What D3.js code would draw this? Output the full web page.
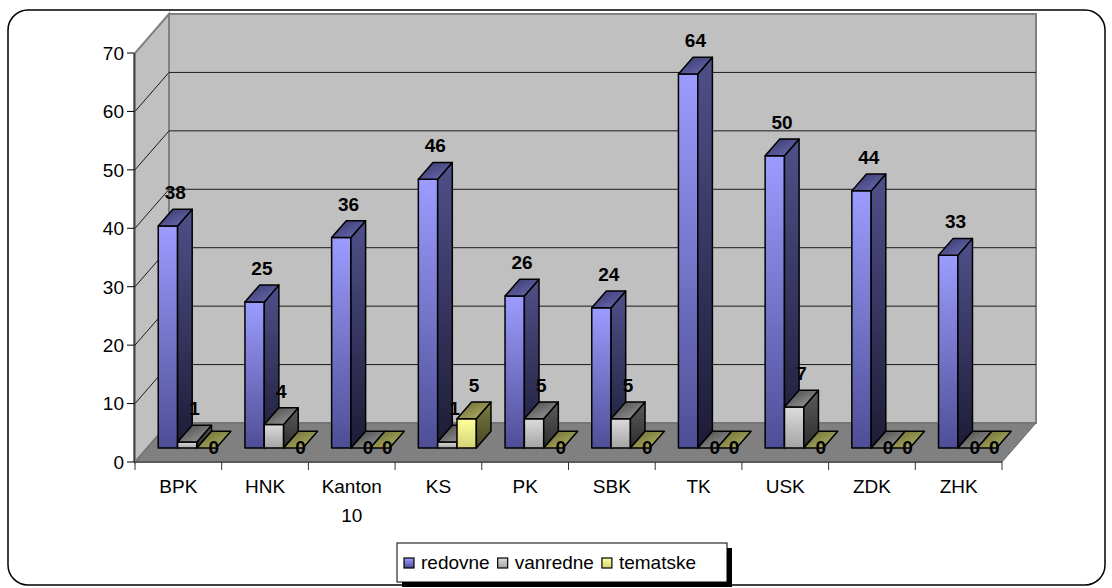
<!DOCTYPE html>
<html>
<head>
<meta charset="utf-8">
<script src="https://cdn.jsdelivr.net/npm/d3@7"></script>
<style>
  body { margin: 0; background: #fff; }
  text { font-family: Arial, "Liberation Sans", sans-serif; }
</style>
</head>
<body>
<div id="chart"></div>
<script>
  // ---- //
 // Data //
// ---- //
var categories = ["BPK", "HNK", "Kanton 10", "KS", "PK", "SBK", "TK", "USK", "ZDK", "ZHK"];
var seriesNames = ["redovne", "vanredne", "tematske"];
var redovne = [38, 25, 36, 46, 26, 24, 64, 50, 44, 33];
var vanredne = [1, 4, 0, 1, 5, 5, 0, 7, 0, 0];
var tematske = [0, 0, 0, 5, 0, 0, 0, 0, 0, 0];
var yTicks = [0, 10, 20, 30, 40, 50, 60, 70];

var seriesValues = [redovne, vanredne, tematske];

  // ------------ //
 // Set up chart //
// ------------ //
var svgWidth = 1112;
var svgHeight = 588;

// depth of the 3d box (screen offset of the back wall)
var DX = 34;
var DY = 39;
// bars sit between these depth fractions
var z0 = 0.36;
var z1 = 0.79;

var svg = d3.select("#chart")
  .append("svg")
  .attr("width", svgWidth)
  .attr("height", svgHeight);

var defs = svg.append("defs");

// colours per series: front / side / top gradients
var palette = {
  redovne:  { front: ["#9c9cff", "#4e4e96"], side: ["#50508a", "#1c1c36"], top: ["#363668", "#6e6eb8"] },
  vanredne: { front: ["#dcdcdc", "#a4a4a4"], side: ["#5c5c5c", "#2c2c2c"], top: ["#444444", "#a0a0a0"] },
  tematske: { front: ["#ffff9c", "#d4d476"], side: ["#7c7c42", "#464624"], top: ["#66662f", "#b8b86c"] }
};

function addGradient(id, stops, diagonal) {
  var g = defs.append("linearGradient")
    .attr("id", id)
    .attr("x1", 0).attr("y1", 0)
    .attr("x2", diagonal ? 1 : 0).attr("y2", 1);
  g.append("stop").attr("offset", "0%").attr("stop-color", stops[0]);
  g.append("stop").attr("offset", "100%").attr("stop-color", stops[1]);
}

seriesNames.forEach(function(s) {
  addGradient(s + "-front", palette[s].front, false);
  addGradient(s + "-side", palette[s].side, false);
  addGradient(s + "-top", palette[s].top, true);
});

  // ----------------------- //
 // Outer rounded chart box //
// ----------------------- //
svg.append("rect")
  .attr("x", 8)
  .attr("y", 10)
  .attr("width", 1097)
  .attr("height", 575)
  .attr("rx", 20)
  .attr("fill", "#fff")
  .attr("stroke", "#000")
  .attr("stroke-width", 1.5);

  // ------ //
 // Scales //
// ------ //
var xScale = d3.scaleBand()
  .domain(categories)
  .range([135, 1002]);

var xSeries = d3.scaleBand()
  .domain(seriesNames)
  .range([11, 69]);

var yScale = d3.scaleLinear()
  .domain([0, 70])
  .range([462, 53]);

// project a point (x on front plane, value, depth fraction) to the screen
function P(x, v, z) {
  return [x + z * DX, yScale(v) - z * DY];
}

function poly(points) {
  return "M" + points.map(function(p) { return p[0] + "," + p[1]; }).join("L") + "Z";
}

var xLeft = xScale.range()[0];
var xRight = xScale.range()[1];
var yMax = 70;

  // ----------------------- //
 // Walls, floor, gridlines //
// ----------------------- //
var walls = svg.append("g");

// back wall
walls.append("path")
  .attr("d", poly([P(xLeft, 0, 1), P(xRight, 0, 1), P(xRight, yMax, 1), P(xLeft, yMax, 1)]))
  .attr("fill", "#c0c0c0")
  .attr("stroke", "#808080")
  .attr("stroke-width", 2);

// side wall
walls.append("path")
  .attr("d", poly([P(xLeft, 0, 0), P(xLeft, 0, 1), P(xLeft, yMax, 1), P(xLeft, yMax, 0)]))
  .attr("fill", "#c0c0c0")
  .attr("stroke", "#808080")
  .attr("stroke-width", 2);

// floor
walls.append("path")
  .attr("d", poly([P(xLeft, 0, 0), P(xRight, 0, 0), P(xRight, 0, 1), P(xLeft, 0, 1)]))
  .attr("fill", "#808080")
  .attr("stroke", "#6a6a6a")
  .attr("stroke-width", 1);

// gridlines on back wall and side wall
yTicks.filter(function(t) { return t > 0 && t < yMax; }).forEach(function(t) {
  var a = P(xLeft, t, 0), b = P(xLeft, t, 1), c = P(xRight, t, 1);
  walls.append("path")
    .attr("d", "M" + a + "L" + b + "L" + c)
    .attr("fill", "none")
    .attr("stroke", "#1a1a1a")
    .attr("stroke-width", 1);
});

// floor front edge
walls.append("line")
  .attr("x1", xLeft - 1).attr("x2", xRight)
  .attr("y1", yScale(0)).attr("y2", yScale(0))
  .attr("stroke", "#5a5a5a")
  .attr("stroke-width", 2);

  // ------ //
 // Y axis //
// ------ //
var yAxis = svg.append("g");

yAxis.append("line")
  .attr("x1", xLeft - 1).attr("x2", xLeft - 1)
  .attr("y1", yScale(0)).attr("y2", yScale(yMax))
  .attr("stroke", "#000");

yTicks.forEach(function(t) {
  yAxis.append("line")
    .attr("x1", xLeft - 8).attr("x2", xLeft - 1)
    .attr("y1", yScale(t)).attr("y2", yScale(t))
    .attr("stroke", "#000");
  yAxis.append("text")
    .attr("x", xLeft - 11)
    .attr("y", yScale(t))
    .attr("dy", "0.36em")
    .attr("text-anchor", "end")
    .attr("font-size", 19)
    .text(t);
});

  // ------ //
 // X axis //
// ------ //
var xAxis = svg.append("g");

categories.concat([null]).forEach(function(c, i) {
  var x = c === null ? xRight : xScale(c);
  xAxis.append("line")
    .attr("x1", x).attr("x2", x)
    .attr("y1", yScale(0)).attr("y2", yScale(0) + 8)
    .attr("stroke", "#333");
});

categories.forEach(function(c) {
  var words = c.split(" ");
  var cx = xScale(c) + xScale.bandwidth() / 2;
  var t = xAxis.append("text")
    .attr("x", cx)
    .attr("y", 493)
    .attr("text-anchor", "middle")
    .attr("font-size", 19);
  // wrap the long label onto two lines like Excel did
  if (words.length > 1 && c.length > 6) {
    words.forEach(function(w, k) {
      t.append("tspan").attr("x", cx).attr("dy", k === 0 ? 0 : 29).text(w);
    });
  } else {
    t.text(c);
  }
});

  // ---- //
 // Bars //
// ---- //
var barsGroup = svg.append("g");
var labelData = [];

categories.forEach(function(c, i) {
  seriesNames.forEach(function(s, j) {
    var v = seriesValues[j][i];
    var xl = xScale(c) + xSeries(s);
    var xr = xl + xSeries.bandwidth();
    var g = barsGroup.append("g");

    if (v > 0) {
      // front face
      g.append("path")
        .attr("d", poly([P(xl, 0, z0), P(xr, 0, z0), P(xr, v, z0), P(xl, v, z0)]))
        .attr("fill", "url(#" + s + "-front)");
      // side face
      g.append("path")
        .attr("d", poly([P(xr, 0, z0), P(xr, 0, z1), P(xr, v, z1), P(xr, v, z0)]))
        .attr("fill", "url(#" + s + "-side)");
    }
    // top face (flat plate when the value is 0)
    g.append("path")
      .attr("d", poly([P(xl, v, z0), P(xr, v, z0), P(xr, v, z1), P(xl, v, z1)]))
      .attr("fill", "url(#" + s + "-top)");

    g.selectAll("path")
      .attr("stroke", "#000")
      .attr("stroke-width", 1.5)
      .attr("stroke-linejoin", "round");

    var top = P((xl + xr) / 2, v, (z0 + z1) / 2);
    labelData.push({
      x: top[0],
      y: v > 0 ? yScale(v) - z0 * DY - 27 : yScale(v) - z0 * DY + 6,
      v: v
    });
  });
});

// data labels
svg.append("g")
  .selectAll("text")
  .data(labelData)
  .enter()
  .append("text")
  .attr("x", d => d.x)
  .attr("y", d => d.y)
  .attr("text-anchor", "middle")
  .attr("font-size", 19)
  .attr("font-weight", "bold")
  .text(d => d.v);

  // ------ //
 // Legend //
// ------ //
var legend = svg.append("g");

legend.append("rect")
  .attr("x", 402).attr("y", 548)
  .attr("width", 330).attr("height", 39)
  .attr("fill", "#000");

legend.append("rect")
  .attr("x", 397).attr("y", 543)
  .attr("width", 330).attr("height", 39)
  .attr("fill", "#fff")
  .attr("stroke", "#000")
  .attr("stroke-width", 1);

var lx = 404;
seriesNames.forEach(function(s) {
  legend.append("rect")
    .attr("x", lx).attr("y", 558)
    .attr("width", 10).attr("height", 10)
    .attr("fill", "url(#" + s + "-front)")
    .attr("stroke", "#000")
    .attr("stroke-width", 1.2);
  var t = legend.append("text")
    .attr("x", lx + 17)
    .attr("y", 569)
    .attr("font-size", 19)
    .text(s);
  lx += 17 + t.node().getComputedTextLength() + 8;
});
</script>
</body>
</html>
